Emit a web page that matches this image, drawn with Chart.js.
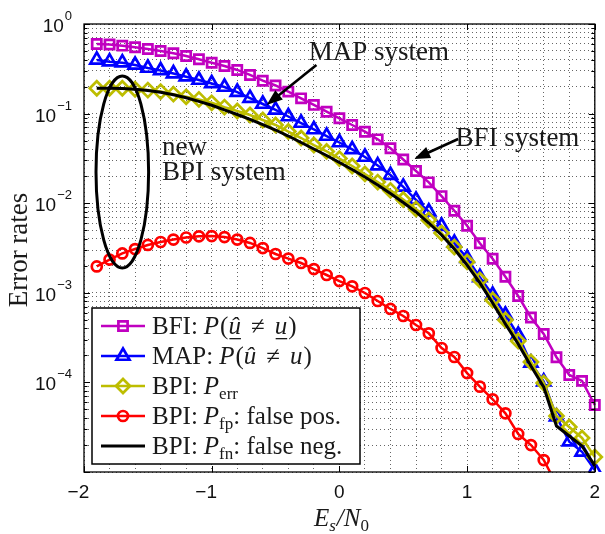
<!DOCTYPE html>
<html>
<head>
<meta charset="utf-8">
<script src="https://cdn.jsdelivr.net/npm/chart.js@4"></script>
<style>
  html, body { margin: 0; padding: 0; background: #fff; }
</style>
</head>
<body>
<canvas id="chart" width="605" height="534"></canvas>
<script>
// Es/N0 grid (x axis)
var snr = [-1.9, -1.8, -1.7, -1.6, -1.5, -1.4, -1.3, -1.2, -1.1, -1.0,
           -0.9, -0.8, -0.7, -0.6, -0.5, -0.4, -0.3, -0.2, -0.1, 0.0,
            0.1,  0.2,  0.3,  0.4,  0.5,  0.6,  0.7,  0.8,  0.9, 1.0,
            1.1,  1.2,  1.3,  1.4,  1.5,  1.6,  1.7,  1.8,  1.9, 2.0];

// BFI: P(u_hat != u)  (magenta squares)
var bfiErr = [0.598, 0.590, 0.573, 0.550, 0.526, 0.500, 0.471, 0.439, 0.404, 0.370,
              0.340, 0.307, 0.270, 0.233, 0.206, 0.176, 0.148, 0.125, 0.105, 0.0886,
              0.0746, 0.0628, 0.0516, 0.0410, 0.0307, 0.0229, 0.0171, 0.0120, 0.00824, 0.00561,
              0.00357, 0.00240, 0.00151, 0.000921, 0.000530, 0.000347, 0.000191, 0.000121, 0.000104, 0.0000560];

// MAP: P(u_hat != u)  (blue triangles)
var mapErr = [0.397, 0.380, 0.370, 0.349, 0.323, 0.303, 0.280, 0.258, 0.237, 0.217,
              0.198, 0.174, 0.149, 0.128, 0.110, 0.0928, 0.0785, 0.0665, 0.0562, 0.0476,
              0.0398, 0.0328, 0.0263, 0.0206, 0.0152, 0.0109, 0.00804, 0.00556, 0.00360, 0.00243,
              0.00149, 0.000945, 0.000565, 0.000338, 0.000165, 0.000102, 0.0000414, 0.0000218, 0.0000168, 0.0000105];

// BPI: P_err  (olive diamonds)
var bpiErr = [0.192, 0.192, 0.192, 0.187, 0.183, 0.176, 0.165, 0.154, 0.144, 0.132,
              0.118, 0.107, 0.0965, 0.0848, 0.0746, 0.0631, 0.0534, 0.0446, 0.0378, 0.0315,
              0.0260, 0.0212, 0.0172, 0.0139, 0.0110, 0.00861, 0.00649, 0.00465, 0.00324, 0.00221,
              0.00139, 0.000831, 0.000497, 0.000290, 0.000169, 0.0000985, 0.0000422, 0.0000318, 0.0000240, 0.0000147];

// BPI: P_fp false positives  (red circles, runs off the bottom after 1.6)
var bpiFp = [0.00197, 0.00235, 0.00275, 0.00308, 0.00342, 0.00369, 0.00393, 0.00414, 0.00427, 0.00430,
             0.00419, 0.00393, 0.00360, 0.00316, 0.00271, 0.00241, 0.00215, 0.00184, 0.00158, 0.00135,
             0.00118, 0.000995, 0.000810, 0.000660, 0.000551, 0.000437, 0.000353, 0.000242, 0.000192, 0.000127,
             0.0000895, 0.0000648, 0.0000452, 0.0000266, 0.0000200, 0.0000136, 0.0000073];

// BPI: P_fn false negatives  (black line)
var bpiFn = [0.192, 0.192, 0.191, 0.187, 0.181, 0.173, 0.162, 0.150, 0.137, 0.124,
             0.110, 0.0977, 0.0864, 0.0755, 0.0656, 0.0562, 0.0476, 0.0403, 0.0341, 0.0285,
             0.0238, 0.0196, 0.0160, 0.0128, 0.0102, 0.00798, 0.00601, 0.00442, 0.00308, 0.00204,
             0.00129, 0.000769, 0.000449, 0.000268, 0.000152, 0.0000888, 0.0000326, 0.0000252, 0.0000195, 0.0000117];

var xTickValues = [-2, -1, 0, 1, 2];
var yTickExps = [0, -1, -2, -3, -4];

// annotations, in data coordinates
var notes = [
  { text: 'MAP system', x: -0.24, y: 0.397 },
  { text: 'BFI system', x: 0.91, y: 0.0435 },
  { text: 'new', x: -1.39, y: 0.0345 },
  { text: 'BPI system', x: -1.39, y: 0.0182 }
];
var arrows = [
  { from: [-0.18, 0.349], to: [-0.57, 0.125] },
  { from: [0.93, 0.052], to: [0.585, 0.0311] }
];
var ellipseBox = { x: -1.7, halfWidth: 0.206, top: 0.263, bottom: 0.00189 };

function series(vals) {
  var out = [];
  for (var i = 0; i < vals.length; i++) out.push({ x: snr[i], y: vals[i] });
  return out;
}

var SERIF = '"Liberation Serif", "Times New Roman", serif';
var SANS = '"Liberation Sans", Arial, sans-serif';
var TXT = '#1a1a1a';

var styles = [
  { color: '#c000c0', pointStyle: 'rect', radius: 6.5 },
  { color: '#0000ff', pointStyle: 'triangle', radius: 7.5 },
  { color: '#bdbd00', pointStyle: 'rectRot', radius: 7 },
  { color: '#ff0000', pointStyle: 'circle', radius: 5 },
  { color: '#000000', pointStyle: false, radius: 0 }
];

function mkSet(vals, st, order, width) {
  return {
    data: series(vals),
    borderColor: st.color,
    backgroundColor: st.color,
    borderWidth: width,
    pointStyle: st.pointStyle,
    pointRadius: st.radius,
    pointBorderWidth: 2.7,
    pointBorderColor: st.color,
    pointBackgroundColor: 'rgba(255,255,255,0)',
    tension: 0,
    order: order,
    clip: { left: 12, right: 12, top: 12, bottom: 0 }
  };
}

function drawArrow(ctx, x1, y1, x2, y2) {
  var ang = Math.atan2(y2 - y1, x2 - x1);
  var len = 16, hw = 6;
  ctx.beginPath();
  ctx.moveTo(x1, y1);
  ctx.lineTo(x2 - Math.cos(ang) * len * 0.8, y2 - Math.sin(ang) * len * 0.8);
  ctx.stroke();
  ctx.beginPath();
  ctx.moveTo(x2, y2);
  ctx.lineTo(x2 - Math.cos(ang) * len + Math.sin(ang) * hw, y2 - Math.sin(ang) * len - Math.cos(ang) * hw);
  ctx.lineTo(x2 - Math.cos(ang) * len - Math.sin(ang) * hw, y2 - Math.sin(ang) * len + Math.cos(ang) * hw);
  ctx.closePath();
  ctx.fill();
}

function drawRich(ctx, x, y, parts) {
  parts.forEach(function (p) {
    ctx.font = p.f;
    var w = ctx.measureText(p.t).width;
    ctx.fillText(p.t, x, y + (p.dy || 0));
    if (p.u) ctx.fillRect(x + 1, y + 4, w - 1, 1.3);
    x += w + (p.gap || 0);
  });
  return x;
}

function richWidth(ctx, parts) {
  var w = 0;
  parts.forEach(function (p) { ctx.font = p.f; w += ctx.measureText(p.t).width + (p.gap || 0); });
  return w;
}

var deco = {
  id: 'deco',
  afterDatasetsDraw: function (chart) {
    var ctx = chart.ctx, xs = chart.scales.x, ys = chart.scales.y;
    ctx.save();
    ctx.strokeStyle = '#000';
    ctx.fillStyle = '#000';
    ctx.lineWidth = 3;
    var cx = xs.getPixelForValue(ellipseBox.x);
    var rx = xs.getPixelForValue(ellipseBox.x + ellipseBox.halfWidth) - cx;
    var top = ys.getPixelForValue(ellipseBox.top), bot = ys.getPixelForValue(ellipseBox.bottom);
    ctx.beginPath();
    ctx.ellipse(cx, (top + bot) / 2, rx, (bot - top) / 2, 0, 0, Math.PI * 2);
    ctx.stroke();

    ctx.lineWidth = 2.6;
    arrows.forEach(function (a) {
      drawArrow(ctx, xs.getPixelForValue(a.from[0]), ys.getPixelForValue(a.from[1]),
                xs.getPixelForValue(a.to[0]), ys.getPixelForValue(a.to[1]));
    });

    ctx.fillStyle = TXT;
    ctx.font = '27px ' + SERIF;
    ctx.textAlign = 'left';
    ctx.textBaseline = 'alphabetic';
    notes.forEach(function (n) {
      ctx.fillText(n.text, xs.getPixelForValue(n.x), ys.getPixelForValue(n.y));
    });
    ctx.restore();
  },
  afterDraw: function (chart) {
    var ctx = chart.ctx, a = chart.chartArea, xs = chart.scales.x, ys = chart.scales.y;
    ctx.save();
    // frame
    ctx.strokeStyle = '#000';
    ctx.lineWidth = 1.3;
    ctx.strokeRect(a.left, a.top, a.right - a.left, a.bottom - a.top);
    // inward ticks
    ctx.lineWidth = 1;
    ctx.beginPath();
    xTickValues.forEach(function (v) {
      var x = Math.round(xs.getPixelForValue(v)) + 0.5;
      ctx.moveTo(x, a.bottom); ctx.lineTo(x, a.bottom - 6);
      ctx.moveTo(x, a.top); ctx.lineTo(x, a.top + 6);
    });
    ys.ticks.forEach(function (t) {
      var y = Math.round(ys.getPixelForValue(t.value)) + 0.5;
      var e = Math.log10(t.value);
      var len = Math.abs(e - Math.round(e)) < 1e-6 ? 6 : 3.5;
      ctx.moveTo(a.left, y); ctx.lineTo(a.left + len, y);
      ctx.moveTo(a.right, y); ctx.lineTo(a.right - len, y);
    });
    ctx.stroke();

    // y tick labels 10^k
    ctx.fillStyle = '#111';
    ctx.textAlign = 'right';
    ctx.textBaseline = 'alphabetic';
    yTickExps.forEach(function (e) {
      var y = ys.getPixelForValue(Math.pow(10, e));
      var ex = e === 0 ? '0' : '\u2212' + (-e);
      ctx.font = '13px ' + SANS;
      var ew = ctx.measureText(ex).width;
      ctx.fillText(ex, a.left - 12, y - 4);
      ctx.font = '19px ' + SANS;
      ctx.fillText('10', a.left - 13 - ew, y + 8);
    });

    // x tick labels, digit centred on the tick, minus hanging left
    ctx.font = '19px ' + SANS;
    xTickValues.forEach(function (v) {
      var x = xs.getPixelForValue(v);
      var s = String(Math.abs(v));
      var w = ctx.measureText(s).width;
      ctx.textAlign = 'center';
      ctx.fillText(s, x, a.bottom + 26);
      if (v < 0) {
        ctx.textAlign = 'right';
        ctx.fillText('\u2212', x - w / 2, a.bottom + 26);
      }
    });

    // axis titles
    ctx.fillStyle = TXT;
    ctx.save();
    ctx.translate(27, (a.top + a.bottom) / 2 + 2);
    ctx.rotate(-Math.PI / 2);
    ctx.textAlign = 'center';
    ctx.font = '27px ' + SERIF;
    ctx.fillText('Error rates', 0, 0);
    ctx.restore();

    ctx.textAlign = 'left';
    var I = 'italic 25px ' + SERIF, R = '25px ' + SERIF;
    var IS = 'italic 17px ' + SERIF, RS = '17px ' + SERIF;
    var xt = [
      { t: 'E', f: I, gap: 0 },
      { t: 's', f: IS, dy: 5, gap: 1 },
      { t: '/', f: I, gap: 0 },
      { t: 'N', f: I, gap: 0 },
      { t: '0', f: RS, dy: 5 }
    ];
    var tw = richWidth(ctx, xt);
    drawRich(ctx, (a.left + a.right) / 2 - tw / 2 + 2, a.bottom + 54, xt);

    // legend
    var L = { x: a.left + 8, y: a.bottom - 164, w: 268, h: 156 };
    ctx.fillStyle = '#fff';
    ctx.fillRect(L.x, L.y, L.w, L.h);
    ctx.strokeStyle = '#000';
    ctx.lineWidth = 1.5;
    ctx.strokeRect(L.x, L.y, L.w, L.h);

    var rows = [
      [{ t: 'BFI:', f: R, gap: 6 }, { t: 'P', f: I, gap: 1 }, { t: '(', f: R }, { t: '\u00fb', f: I, u: 1, gap: 10 },
       { t: '\u2260', f: R, gap: 10 }, { t: 'u', f: I, u: 1, gap: 1 }, { t: ')', f: R }],
      [{ t: 'MAP:', f: R, gap: 6 }, { t: 'P', f: I, gap: 1 }, { t: '(', f: R }, { t: '\u00fb', f: I, gap: 10 },
       { t: '\u2260', f: R, gap: 10 }, { t: 'u', f: I, gap: 1 }, { t: ')', f: R }],
      [{ t: 'BPI:', f: R, gap: 6 }, { t: 'P', f: I, gap: 0 }, { t: 'err', f: RS, dy: 5 }],
      [{ t: 'BPI:', f: R, gap: 6 }, { t: 'P', f: I, gap: 0 }, { t: 'fp', f: RS, dy: 5 }, { t: ': false pos.', f: R }],
      [{ t: 'BPI:', f: R, gap: 6 }, { t: 'P', f: I, gap: 0 }, { t: 'fn', f: RS, dy: 5 }, { t: ': false neg.', f: R }]
    ];
    var lineW = [2.5, 2.5, 2.5, 2.5, 3];
    rows.forEach(function (parts, i) {
      var st = styles[i];
      var y = L.y + 18 + i * 30;
      ctx.strokeStyle = st.color;
      ctx.lineWidth = lineW[i];
      ctx.beginPath();
      ctx.moveTo(L.x + 9, y); ctx.lineTo(L.x + 53, y);
      ctx.stroke();
      if (st.pointStyle) {
        ctx.fillStyle = 'rgba(255,255,255,0)';
        ctx.lineWidth = 2.7;
        Chart.helpers.drawPoint(ctx, { pointStyle: st.pointStyle, radius: st.radius, borderWidth: 2.7, rotation: 0 }, L.x + 31, y);
      }
      ctx.fillStyle = TXT;
      drawRich(ctx, L.x + 60, y + 8, parts);
    });
    ctx.restore();
  }
};

function yTicksAll(scale) {
  var t = [];
  for (var e = -5; e <= 0; e++) {
    for (var m = 1; m <= 9; m++) {
      if (e === 0 && m > 1) break;
      t.push({ value: m * Math.pow(10, e) });
    }
  }
  scale.ticks = t;
}

var gridColor = 'rgba(0,0,0,0.6)';

new Chart(document.getElementById('chart').getContext('2d'), {
  type: 'line',
  data: {
    datasets: [
      mkSet(bfiErr, styles[0], 5, 2.5),
      mkSet(mapErr, styles[1], 4, 2.5),
      mkSet(bpiErr, styles[2], 3, 2.5),
      mkSet(bpiFp, styles[3], 2, 2.5),
      mkSet(bpiFn, styles[4], 1, 3)
    ]
  },
  options: {
    responsive: false,
    animation: false,
    devicePixelRatio: 1,
    layout: { padding: { left: 0, right: 7, top: 24, bottom: 0 } },
    plugins: { legend: { display: false }, tooltip: { enabled: false } },
    scales: {
      x: {
        type: 'linear',
        min: -2,
        max: 2,
        ticks: { display: false, stepSize: 0.2, autoSkip: false },
        grid: { color: gridColor, lineWidth: 1, drawTicks: false, borderDash: [1, 3] },
        border: { display: false, dash: [1, 3] },
        afterFit: function (s) { s.height = 62; }
      },
      y: {
        type: 'logarithmic',
        min: 1e-5,
        max: 1,
        afterBuildTicks: yTicksAll,
        ticks: { display: false, autoSkip: false },
        grid: { color: gridColor, lineWidth: 1, drawTicks: false, borderDash: [1, 3] },
        border: { display: false, dash: [1, 3] },
        afterFit: function (s) { s.width = 84; }
      }
    }
  },
  plugins: [deco]
});
</script>
</body>
</html>
